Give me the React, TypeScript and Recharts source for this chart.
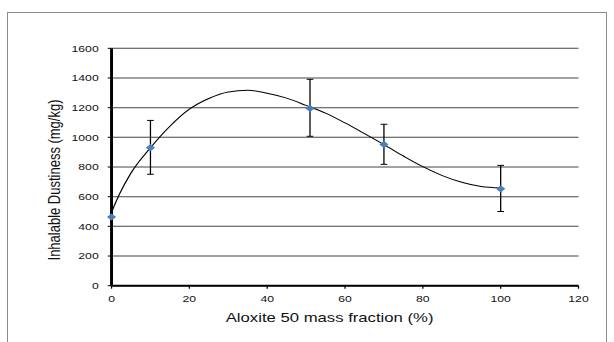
import { ComposedChart, Line, Scatter, ErrorBar, XAxis, YAxis, CartesianGrid, Label } from "recharts";

// measured points
const fractions = [0, 10, 51, 70, 100];
const dustiness = [463, 930, 1195, 952, 653];
const errLow = [0, 179, 188, 134, 153];
const errHigh = [0, 184, 196, 136, 158];

// trendline
const trendX = [0, 2, 5, 10, 15, 20, 25, 30, 35, 40, 45, 50, 55, 60, 65, 70, 75, 80, 85, 90, 95, 100];
const trendY = [495, 615, 760, 930, 1075, 1190, 1262, 1306, 1317, 1297, 1264, 1215, 1163, 1097, 1025, 951, 874, 802, 742, 697, 668, 658];

const xTicks = [0, 20, 40, 60, 80, 100, 120];
const yTicks = [0, 200, 400, 600, 800, 1000, 1200, 1400, 1600];

const points = fractions.map((x, i) => ({ x, y: dustiness[i], err: [errLow[i], errHigh[i]] }));
const trend = trendX.map((x, i) => ({ x, y: trendY[i] }));

// the source picture is stretched sideways
const STRETCH = 1.285;
const font = "'Liberation Sans', Arial, sans-serif";

function Diamond(props: any) {
  const { cx, cy } = props;
  const r = 3.6;
  return (
    <polygon
      points={`${cx},${cy - r} ${cx + r},${cy} ${cx},${cy + r} ${cx - r},${cy}`}
      fill="#4a7ebb"
    />
  );
}

export default function App() {
  return (
    <div style={{ position: "absolute", left: 0, top: 0, width: 614, height: 342, overflow: "hidden", background: "#fff" }}>
      <div style={{ position: "absolute", left: 7, top: 12, width: 598, height: 400, border: "1px solid #8c8c8c" }} />
      <div style={{ position: "absolute", left: 0, top: 0, transform: `scaleX(${STRETCH})`, transformOrigin: "0 0" }}>
        <ComposedChart
          width={478}
          height={342}
          margin={{ top: 48.3, right: 27.8, bottom: 16.3, left: 36.8 }}
        >
          <CartesianGrid vertical={false} stroke="#444" strokeWidth={1} />
          <XAxis
            dataKey="x"
            type="number"
            domain={[0, 120]}
            ticks={xTicks}
            height={40}
            axisLine={{ stroke: "#000", strokeWidth: 2 }}
            tickLine={{ stroke: "#000" }}
            tickSize={3}
            tickMargin={7}
            tick={{ fontSize: 9.5, fill: "#111", fontFamily: font }}
          >
            <Label
              value="Aloxite 50 mass fraction (%)"
              position="insideBottom"
              offset={4}
              dx={-12}
              style={{ fontSize: 13, fill: "#111", fontFamily: font }}
            />
          </XAxis>
          <YAxis
            type="number"
            domain={[0, 1600]}
            ticks={yTicks}
            width={50}
            axisLine={{ stroke: "#000", strokeWidth: 2.3 }}
            tickLine={{ stroke: "#000" }}
            tickSize={3}
            tickMargin={7}
            tick={{ fontSize: 9.5, fill: "#111", fontFamily: font }}
          >
            <Label
              value="Inhalable Dustiness (mg/kg)"
              angle={-90}
              position="center"
              dx={-20}
              dy={13}
              style={{ fontSize: 13, fill: "#111", fontFamily: font }}
            />
          </YAxis>
          <YAxis
            yAxisId="r"
            orientation="right"
            type="number"
            domain={[0, 1600]}
            width={0}
            tick={false}
            tickLine={false}
            axisLine={{ stroke: "#808080", strokeWidth: 1.5 }}
          />
          <Line
            data={trend}
            dataKey="y"
            type="monotone"
            stroke="#000"
            strokeWidth={1}
            dot={false}
            activeDot={false}
            isAnimationActive={false}
          />
          <Scatter data={points} dataKey="y" shape={Diamond} isAnimationActive={false}>
            <ErrorBar dataKey="err" direction="y" width={2.6} stroke="#000" strokeWidth={1} isAnimationActive={false} />
          </Scatter>
        </ComposedChart>
      </div>
    </div>
  );
}
